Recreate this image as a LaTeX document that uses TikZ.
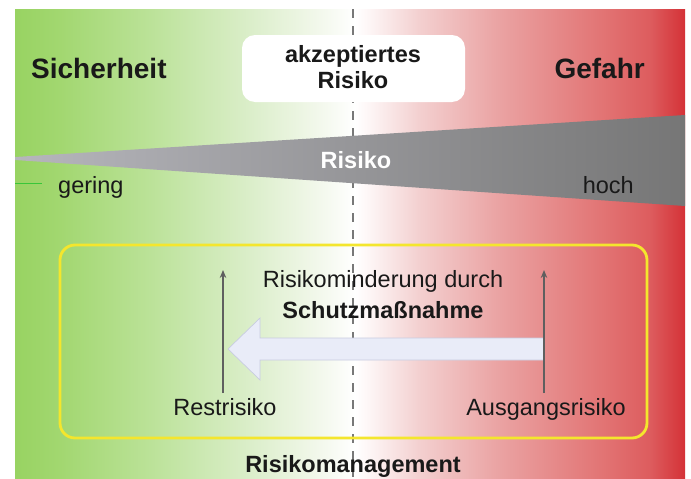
\documentclass[tikz,border=0pt]{standalone}
\usepackage{fontspec}
\setmainfont{Liberation Sans}
\usetikzlibrary{arrows.meta}
\definecolor{cA}{RGB}{152,211,98}
\definecolor{cB}{RGB}{162,215,112}
\definecolor{cC}{RGB}{187,226,152}
\definecolor{cD}{RGB}{219,238,202}
\definecolor{cE}{RGB}{243,248,236}
\definecolor{cF}{RGB}{255,255,255}
\definecolor{cG}{RGB}{253,245,245}
\definecolor{cH}{RGB}{243,207,207}
\definecolor{cI}{RGB}{234,162,162}
\definecolor{cJ}{RGB}{226,117,117}
\definecolor{cK}{RGB}{221,92,94}
\definecolor{cL}{RGB}{212,50,55}
\definecolor{wedgeL}{RGB}{182,182,188}
\definecolor{wedgeM}{RGB}{135,135,135}
\definecolor{wedgeR}{RGB}{118,118,118}
\definecolor{frameY}{RGB}{244,230,45}
\definecolor{arrowFill}{RGB}{233,236,248}
\definecolor{arrowEdge}{RGB}{200,204,224}
\definecolor{upGray}{RGB}{95,95,95}
\definecolor{dashGray}{RGB}{120,120,120}
\definecolor{txt}{RGB}{25,25,25}
\pgfdeclarehorizontalshading{bgshade}{100bp}{color(0bp)=(cA); color(25bp)=(cA); color(28.36bp)=(cB); color(35.07bp)=(cC); color(42.54bp)=(cD); color(47.76bp)=(cE); color(50.37bp)=(cF); color(51.49bp)=(cG); color(55.22bp)=(cH); color(61.19bp)=(cI); color(68.66bp)=(cJ); color(72.39bp)=(cK); color(75bp)=(cL); color(100bp)=(cL)}
\begin{document}
\begin{tikzpicture}[x=1pt,y=-1pt,
  big/.style={font=\fontsize{28}{30}\selectfont\bfseries, text=txt, inner sep=0pt},
  boldlbl/.style={font=\fontsize{23.5}{26}\selectfont\bfseries, text=txt, inner sep=0pt},
  reglbl/.style={font=\fontsize{23.5}{26}\selectfont, text=txt, inner sep=0pt},
  uparrow/.style={draw=upGray, line width=1.9pt, -{Stealth[length=8pt,width=6.5pt]}}]
\useasboundingbox (0,0) rectangle (691,479);
\fill[white] (0,0) rectangle (691,479);
\shade[shading=bgshade] (15,9) rectangle (685,479);
% dashed middle line
\coordinate (dtop) at (353,9);
\coordinate (dbot) at (353,479);
\draw[dashGray, line width=1.2pt, dash pattern=on 9pt off 8pt] (dtop) -- (dbot);
% accepted risk box
\fill[white, rounded corners=13pt] (242,35) rectangle (465,102);
\node[boldlbl, anchor=base] (akz) at (353,62) {akzeptiertes};
\node[boldlbl, anchor=base] (akr) at (353,88) {Risiko};
% headings
\node[big, anchor=base west] (sich) at (31,78) {Sicherheit};
\node[big, anchor=base east] (gef) at (645,78) {Gefahr};
% wedge
\shade[left color=wedgeL, middle color=wedgeM, right color=wedgeR] (15,157) -- (685,115) -- (685,206) -- (15,160) -- cycle;
\node[boldlbl, text=white, anchor=base] (ris) at (356,168) {Risiko};
\draw[green!55!gray, line width=0.5pt] (15,183) -- (42,183);
\node[reglbl, anchor=base west] (ger) at (58,193) {gering};
\node[reglbl, anchor=base east] (hoch) at (634,193) {hoch};
% risk management frame
\draw[frameY, line width=2.8pt, rounded corners=15pt] (60,245) rectangle (647,438);
% big arrow
\fill[arrowFill, draw=arrowEdge, line width=0.7pt] (544,338) -- (260,338) -- (260,318) -- (228,349) -- (260,380) -- (260,360) -- (544,360) -- cycle;
% texts
\node[reglbl, anchor=base] (rmd) at (383,287) {Risikominderung durch};
\node[boldlbl, anchor=base] (schutz) at (383,318) {Schutzmaßnahme};
\node[reglbl, anchor=base] (rest) at (225,415) {Restrisiko};
\node[reglbl, anchor=base] (aus) at (546,415) {Ausgangsrisiko};
\node[boldlbl, anchor=base] (rm) at (353,472) {Risikomanagement};
% up arrows
\coordinate (lb) at (223,393);
\coordinate (lt) at (223,270);
\coordinate (rb) at (544,393);
\coordinate (rt) at (544,270);
\draw[uparrow] (lb) -- (lt);
\draw[uparrow] (rb) -- (rt);
\end{tikzpicture}
\end{document}
